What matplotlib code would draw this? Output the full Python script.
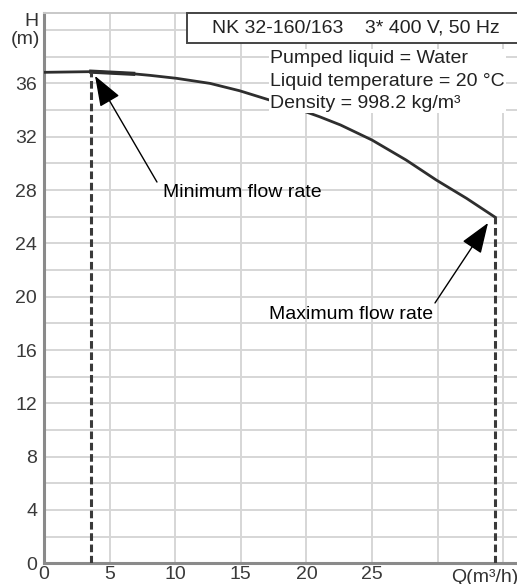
import numpy as np
import matplotlib
matplotlib.use("Agg")
import matplotlib.pyplot as plt
from matplotlib.patches import Rectangle

plt.rcParams['font.family'] = ['Liberation Sans', 'DejaVu Sans']

# pump curve
q = [0, 3.6, 6.8, 8.1, 10.1, 12.65, 14.9, 17.0, 19.0, 21.0, 22.6, 25.0, 27.6, 29.9, 32.2, 34.4]
h = [36.83, 36.88, 36.72, 36.6, 36.38, 36.0, 35.45, 34.81, 34.2, 33.5, 32.88, 31.75, 30.25, 28.75, 27.38, 25.95]

x_ticks = [0, 5, 10, 15, 20, 25]
y_ticks = [0, 4, 8, 12, 16, 20, 24, 28, 32, 36]

title_txt = "NK 32-160/163    3* 400 V, 50 Hz"
info_lines = ["Pumped liquid = Water", "Liquid temperature = 20 \u00b0C", "Density = 998.2 kg/m\u00b3"]

FS = 14
W, H = 517, 584
fig = plt.figure(figsize=(W / 100, H / 100), dpi=100)
ax = fig.add_axes([44 / W, (H - 563.3) / H, (W - 44) / W, (563.3 - 13) / H])
ax.set_xlim(0, 36.05)
ax.set_ylim(0, 41.28)

grid_c = '#d6d6d6'
ax.set_xticks(np.arange(0, 36, 5))
ax.set_yticks(np.arange(0, 41, 2))
ax.grid(True, color=grid_c, lw=1.4)
ax.set_axisbelow(True)
ax.set_xticklabels([str(t) if t in x_ticks else "" for t in np.arange(0, 36, 5)])
ax.set_yticklabels([str(t) if t in y_ticks else "" for t in np.arange(0, 41, 2)])
ax.tick_params(length=0, labelsize=FS, colors='#3a3a3a')
ax.tick_params(axis='y', pad=5)
ax.tick_params(axis='x', pad=2)

for s in ['left', 'bottom']:
    ax.spines[s].set_color('#8a8a8a')
    ax.spines[s].set_linewidth(2.2)
ax.spines['top'].set_color('#c8c8c8')
ax.spines['top'].set_linewidth(1.4)
ax.spines['right'].set_visible(False)

# curve
ax.plot(q, h, color='#2e2e2e', lw=2.0, zorder=3, solid_joinstyle='round')
ax.plot(q[1:3], h[1:3], color='#2e2e2e', lw=3.0, zorder=3)

# min/max flow dashed lines
ax.vlines([q[1], q[-1]], 0, [h[1], h[-1]], colors='#3a3a3a', lw=2.2,
          linestyles=(0, (2.5, 1.2)), zorder=3)

# arrows
aprops = dict(arrowstyle='-|>,head_length=1.9,head_width=0.7', mutation_scale=10,
              color='black', lw=1.0, shrinkA=0, shrinkB=0)
ax.annotate("", xy=(3.89, 36.56), xytext=(8.61, 28.6), arrowprops=aprops, zorder=4)
ax.text(9.07, 27.8, "Minimum flow rate", fontsize=FS, ha='left', va='center', color='black')
ax.annotate("", xy=(33.84, 25.53), xytext=(29.8, 19.53), arrowprops=aprops, zorder=4)
ax.text(29.65, 18.7, "Maximum flow rate", fontsize=FS, ha='right', va='center', color='black')

# title box
rect = Rectangle((187 / W, (H - 43) / H), 1.0, 30 / H, transform=fig.transFigure,
                 facecolor='white', edgecolor='#444444', lw=1.4, zorder=5, clip_on=False)
fig.add_artist(rect)
fig.text(212 / W, (H - 28) / H, title_txt, fontsize=FS, ha='left', va='center',
         color='#222222', zorder=6)

fig.text(270 / W, (H - 81) / H, "\n".join(info_lines), fontsize=FS, ha='left', va='center',
         color='#222222', linespacing=1.43, zorder=6,
         bbox=dict(facecolor='white', edgecolor='none', pad=1))

# axis labels
fig.text(39 / W, (H - 21) / H, "H", fontsize=FS, ha='right', va='center', color='#333333')
fig.text(40 / W, (H - 40) / H, "(m)", fontsize=FS, ha='right', va='center', color='#333333')
fig.text(518 / W, (H - 577) / H, "Q(m\u00b3/h)", fontsize=FS, ha='right', va='center', color='#333333')

fig.savefig("out.png", dpi=100)
